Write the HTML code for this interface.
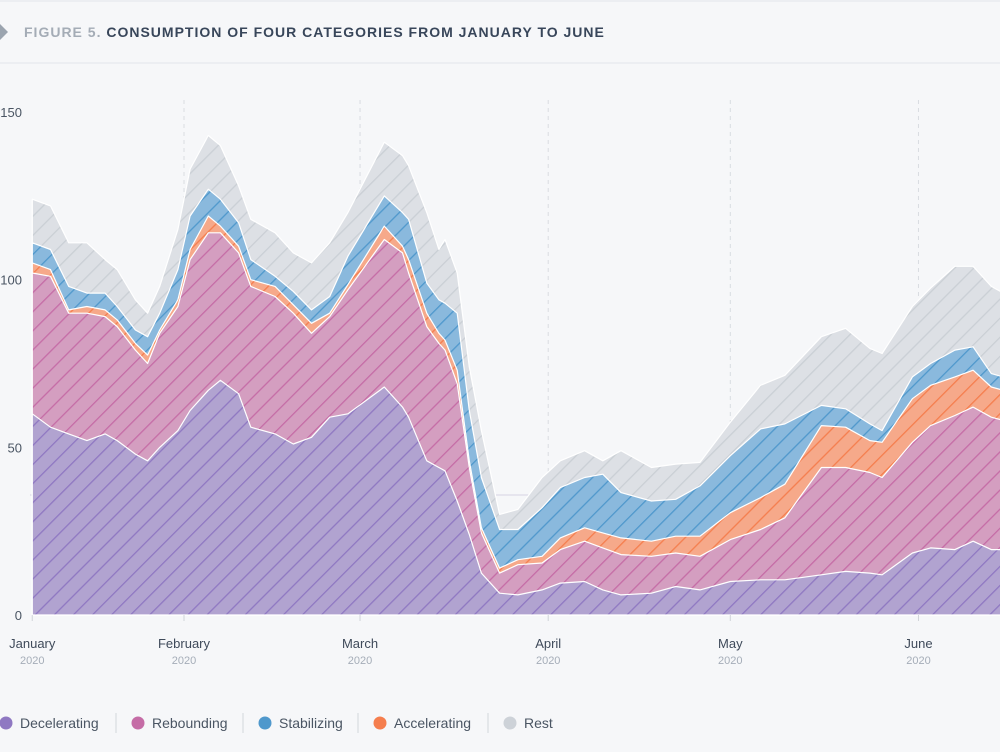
<!DOCTYPE html>
<html><head><meta charset="utf-8">
<style>
body{margin:0;background:#f6f7f9;font-family:"Liberation Sans",sans-serif;}
#wrap{position:relative;width:1000px;height:752px;overflow:hidden;background:#f6f7f9;}
</style></head>
<body>
<div id="wrap">
<svg id="svg" width="1000" height="752" xmlns="http://www.w3.org/2000/svg">
<defs>
<pattern id="hp" patternUnits="userSpaceOnUse" width="13.5" height="13.5" patternTransform="rotate(45)"><rect width="13.5" height="13.5" fill="#b1a3d0"/><line x1="0" y1="0" x2="0" y2="13.5" stroke="#8f78c2" stroke-width="2.6"/></pattern>
<pattern id="hr" patternUnits="userSpaceOnUse" width="13.5" height="13.5" patternTransform="rotate(45)"><rect width="13.5" height="13.5" fill="#d49ec0"/><line x1="0" y1="0" x2="0" y2="13.5" stroke="#c56ca6" stroke-width="2.6"/></pattern>
<pattern id="ha" patternUnits="userSpaceOnUse" width="13.5" height="13.5" patternTransform="rotate(45)"><rect width="13.5" height="13.5" fill="#f6a98a"/><line x1="0" y1="0" x2="0" y2="13.5" stroke="#f57e4e" stroke-width="2.6"/></pattern>
<pattern id="hs" patternUnits="userSpaceOnUse" width="13.5" height="13.5" patternTransform="rotate(45)"><rect width="13.5" height="13.5" fill="#8ab9dd"/><line x1="0" y1="0" x2="0" y2="13.5" stroke="#4f98cc" stroke-width="2.6"/></pattern>
<pattern id="hg" patternUnits="userSpaceOnUse" width="13.5" height="13.5" patternTransform="rotate(45)"><rect width="13.5" height="13.5" fill="#dde0e5"/><line x1="0" y1="0" x2="0" y2="13.5" stroke="#cacfd5" stroke-width="2.6"/></pattern>
<clipPath id="clip"><rect x="30" y="60" width="970" height="556"/></clipPath>
</defs>
<line x1="0" y1="1" x2="1000" y2="1" stroke="#e3e6ea"/>
<line x1="0" y1="63" x2="1000" y2="63" stroke="#e3e6ea"/>
<polygon points="0,24 8,32 0,40" fill="#9ba4af"/>
<text x="24" y="37" font-size="14" font-weight="bold" letter-spacing="1"><tspan fill="#a4acb6">FIGURE 5.</tspan><tspan fill="#38465a"> CONSUMPTION OF FOUR CATEGORIES FROM JANUARY TO JUNE</tspan></text>
<g id="grid"></g>
<g id="areas" clip-path="url(#clip)"></g>
<g id="axes"></g>
<g id="legend"></g>
</svg>
</div>
<script>
const days = [6,9,12,15,18,20,23,25,27,30,32,35,37,40,42,46,49,52,55,58,64,67,68,71,73,74,76,78,80,83,86,90,93,97,100,103,108,112,116,121,126,130,136,140,144,146,151,154,158,161,164,166];
const decelerating = [60,56,54,52,54,52,48,46,50,55,61,67,70,66,56,54,51,53,59,60,68,62,59,46,44,43,34,24,12.5,6.5,6,7.5,9.5,10,7.5,6,6.5,8.5,7.5,10,10.5,10.5,12,13,12.5,12,18.5,20,19.5,22,19.5,19.5];
const rebounding = [42,45,36,38,35,34,31,29,34,37,45,47,44,42,42,41,39,31,30,37,44,46,43,40,37,36,35,20,12,6,9,8,10,12,12.5,12,11,10,10,12.5,15,18.5,32,31,30,29,33,36.5,40,40,39.5,38.5];
const stabilizing = [6,6,7,4,5,4,4,5.5,5,9,10,8,8,7,6,3,4,4,5,8.5,9,10,12,9,10,11,17,15,15,11.5,9,14.5,15,15,17.5,13.5,12,11,15,17,20.5,18,6,5.5,5,3.5,6.5,6.5,8,7,4,4];
const accelerating = [3,2,1,2,2,2,2,2.5,1,2,3,5,2,2,2,3,2.5,3,1,1.5,4,2,4,4,3,3,4,2,1.5,1.5,1.5,2,3.5,4,4.5,5,4.5,5,6,8,9.5,10,12.5,12,9.5,10.5,13,12,11.5,11,9,9];
const rest = [13,13,13,15,10,11,9,7,8,12,14,16,16,11,12,13,11.5,14,16,13,16,17,16,21,15,19,12,13,14,4.5,6,9,8,8,4,12.5,10,10.5,7,10,13,14.5,20.5,24,22.5,23,21,22.5,25,24,26,25];
const yTicks = [0,50,100,150];
const monthLabels = ["January","February","March","April","May","June"];
const monthDays = [6,31,60,91,121,152];
const yearLabel = "2020";

const NS = "http://www.w3.org/2000/svg";
const xS = d => 184 + (d - 31) * 6.07;
const yS = v => 615 - v * 3.353;
function mk(tag, attrs, parent){ const e=document.createElementNS(NS,tag); for(const k in attrs) e.setAttribute(k,attrs[k]); parent.appendChild(e); return e; }
const grid=document.getElementById('grid'), areas=document.getElementById('areas'), axes=document.getElementById('axes'), legend=document.getElementById('legend');

monthDays.forEach((d,i)=>{ if(i===0) return;
  const l=mk('line',{x1:xS(d),x2:xS(d),y1:100,y2:615,stroke:'#d9dce1','stroke-dasharray':'4,4'},grid);
  
  
});
yTicks.forEach(t=>{
  const tx=mk('text',{x:22,y:yS(t)+5,'text-anchor':'end','font-size':13,fill:'#4a5563'},axes);
  tx.textContent=t;
  
  
});
const hl=mk('line',{x1:30,x2:1000,y1:495,y2:495,stroke:'#9a8fb8','stroke-opacity':0.35},grid);



const series=[decelerating,rebounding,accelerating,stabilizing,rest];
const names=['area-decelerating','area-rebounding','area-accelerating','area-stabilizing','area-rest'];
const fills=['url(#hp)','url(#hr)','url(#ha)','url(#hs)','url(#hg)'];
let base=days.map(()=>0);
const layers=[];
series.forEach((s,k)=>{
  const top=base.map((b,i)=>b+s[i]);
  layers.push({lo:base.slice(),hi:top});
  base=top;
});
for(let k=layers.length-1;k>=0;k--){
  const L=layers[k];
  let d='M'+days.map((dd,i)=>xS(dd).toFixed(1)+','+yS(L.hi[i]).toFixed(1)).join('L');
  d+='L'+xS(days[days.length-1]).toFixed(1)+','+yS(0)+'L'+xS(days[0]).toFixed(1)+','+yS(0)+'Z';
  const p=mk('path',{d:d,fill:fills[k],stroke:'#ffffff','stroke-width':1.2,'stroke-linejoin':'round'},areas);
  
  
}
monthDays.forEach((d,i)=>{
  const x=xS(d);
  const t=mk('line',{x1:x,x2:x,y1:615,y2:621,stroke:'#d0d4d9'},axes);
  
  
  const m=mk('text',{x:x,y:648,'text-anchor':'middle','font-size':13,fill:'#3f4a5a'},axes);
  m.textContent=monthLabels[i];
  
  
  const y=mk('text',{x:x,y:664,'text-anchor':'middle','font-size':11,fill:'#a5adb8'},axes);
  y.textContent=yearLabel;
  
  
});
const legNames=['Decelerating','Rebounding','Stabilizing','Accelerating','Rest'];
const legColors=['#8f78c2','#c56ca6','#4f98cc','#f57e4e','#cdd2d8'];
const legCx=[6,138,265,380,510];
const sepX=[116,243,358,488];
legNames.forEach((n,i)=>{
  const c=mk('circle',{cx:legCx[i],cy:723,r:6.5,fill:legColors[i]},legend);
  
  
  const t=mk('text',{x:legCx[i]+14,y:728,'font-size':14,fill:'#4a5563'},legend);
  t.textContent=n;
  
  
});
sepX.forEach(x=>{
  const l=mk('line',{x1:x,x2:x,y1:713,y2:733,stroke:'#d3d7dc'},legend);
  
  
});
</script>
</body></html>
